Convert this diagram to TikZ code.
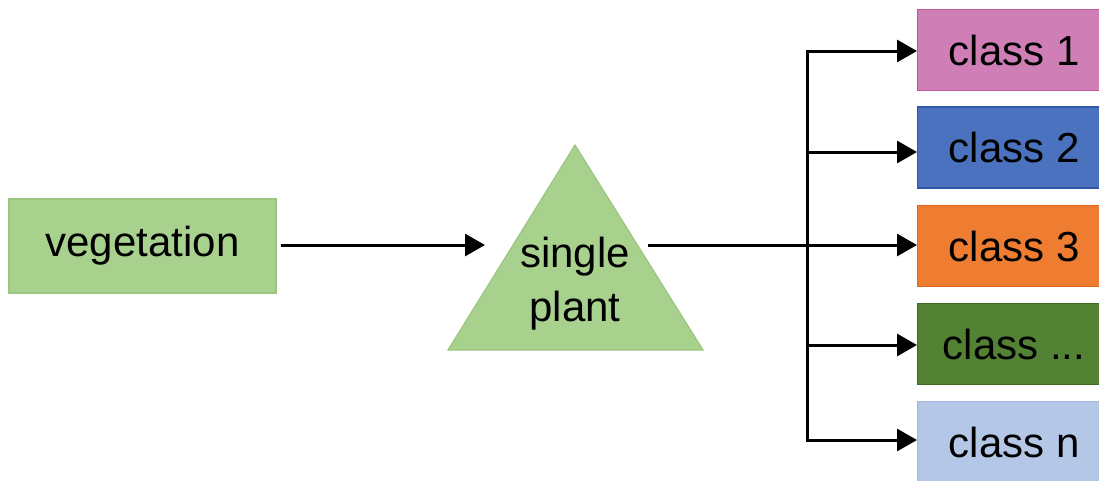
\documentclass[tikz,border=0pt]{standalone}
\usepackage{fontspec}
\setmainfont{Liberation Sans}
\usetikzlibrary{arrows.meta}
\definecolor{veggreen}{HTML}{A9D18E}
\definecolor{vegborder}{HTML}{9CC67F}
\definecolor{cpink}{HTML}{D07FB6}
\definecolor{cpinkb}{HTML}{C2589E}
\definecolor{cblue}{HTML}{4A72BE}
\definecolor{cblueb}{HTML}{2F58A8}
\definecolor{corange}{HTML}{EE7D32}
\definecolor{corangeb}{HTML}{E0661A}
\definecolor{cdgreen}{HTML}{548235}
\definecolor{cdgreenb}{HTML}{3F6B26}
\definecolor{clblue}{HTML}{B4C7E7}
\definecolor{clblueb}{HTML}{A3B8DC}
\tikzset{
  bigtext/.style={font=\fontsize{42}{50}\selectfont, text=black},
  classbox/.style={bigtext, minimum width=193pt, minimum height=81pt, inner sep=0pt, line width=1.2pt, anchor=west},
  conn/.style={line width=3pt, draw=black},
  arr/.style={conn, -{Triangle[length=20pt,width=22pt]}}
}
\begin{document}
\begin{tikzpicture}[x=1pt,y=-1pt]
\useasboundingbox (0,0) rectangle (1099,480);
\clip (0,0) rectangle (1099,480);
% vegetation
\node[bigtext, fill=veggreen, draw=vegborder, line width=1.2pt, minimum width=267pt, minimum height=94pt, inner sep=0pt] (veg) at (142.5,246) {vegetation};
% triangle
\draw[fill=veggreen, draw=vegborder, line width=1.2pt] (575,145) -- (703,350) -- (448,350) -- cycle;
\node[bigtext, align=center, inner sep=0pt] (sp) at (575,284) {single\\[4pt]plant};
\coordinate (inpt) at (485,245);
\coordinate (outpt) at (648,245);
\draw[arr] ([xshift=4pt]veg.east |- inpt) -- (inpt);
% classes
\node[classbox, fill=cpink, draw=cpinkb] (c1) at (917,50) {class 1};
\node[classbox, fill=cblue, draw=cblueb] (c2) at (917,147.5) {class 2};
\node[classbox, fill=corange, draw=corangeb] (c3) at (917,246) {class 3};
\node[classbox, fill=cdgreen, draw=cdgreenb] (c4) at (917,344) {class ...};
\node[classbox, fill=clblue, draw=clblueb] (c5) at (917,442) {class n};
% trunk
\coordinate (ttop) at (807,51);
\coordinate (tbot) at (807,440);
\draw[conn, line cap=rect] (ttop) -- (tbot);
\draw[arr] (outpt) -- (c3.west |- outpt);
\draw[arr] (ttop) -- (c1.west |- ttop);
\draw[arr] (807,152) -- (c2.west |- 0,152);
\draw[arr] (807,345) -- (c4.west |- 0,345);
\draw[arr] (tbot) -- (c5.west |- tbot);
\end{tikzpicture}
\end{document}
